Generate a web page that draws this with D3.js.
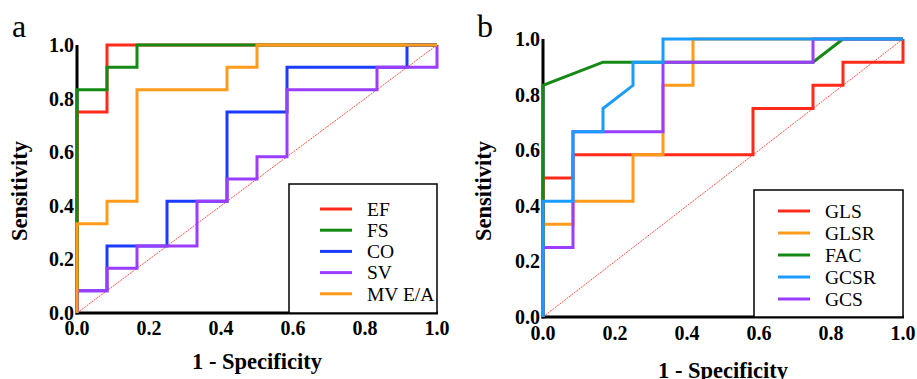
<!DOCTYPE html>
<html>
<head>
<meta charset="utf-8">
<script src="https://cdn.jsdelivr.net/npm/d3@7"></script>
<style>
    body { margin: 0; background: #fff; }
    svg { display: block; }
    text { font-family: "Liberation Serif", "Times New Roman", serif; }
</style>
</head>
<body>
<div id="chart"></div>
<script>
// ROC points (x = 1 - specificity, y = sensitivity)
const efPts = [[0, 0], [0, 0.75], [1/12, 0.75], [1/12, 1], [1, 1]];
const fsPts = [[0, 0], [0, 10/12], [1/12, 10/12], [1/12, 11/12], [2/12, 11/12], [2/12, 1], [1, 1]];
const coPts = [[0, 0], [0, 1/12], [1/12, 1/12], [1/12, 3/12], [3/12, 3/12], [3/12, 5/12], [5/12, 5/12],
    [5/12, 9/12], [7/12, 9/12], [7/12, 11/12], [11/12, 11/12], [11/12, 1], [1, 1]];
const svPts = [[0, 0], [0, 1/12], [1/12, 1/12], [1/12, 2/12], [2/12, 2/12], [2/12, 3/12], [4/12, 3/12],
    [4/12, 5/12], [5/12, 5/12], [5/12, 6/12], [6/12, 6/12], [6/12, 7/12], [7/12, 7/12], [7/12, 10/12],
    [10/12, 10/12], [10/12, 11/12], [1, 11/12], [1, 1]];
const mvPts = [[0, 0], [0, 4/12], [1/12, 4/12], [1/12, 5/12], [2/12, 5/12], [2/12, 10/12], [5/12, 10/12],
    [5/12, 11/12], [6/12, 11/12], [6/12, 1], [1, 1]];

const glsPts = [[0, 0], [0, 6/12], [1/12, 6/12], [1/12, 7/12], [7/12, 7/12], [7/12, 9/12], [9/12, 9/12],
    [9/12, 10/12], [10/12, 10/12], [10/12, 11/12], [1, 11/12], [1, 1]];
const glsrPts = [[0, 0], [0, 4/12], [1/12, 4/12], [1/12, 5/12], [3/12, 5/12], [3/12, 7/12], [4/12, 7/12],
    [4/12, 10/12], [5/12, 10/12], [5/12, 1], [1, 1]];
const facPts = [[0, 0], [0, 10/12], [2/12, 11/12], [9/12, 11/12], [10/12, 1], [1, 1]];
const gcsrPts = [[0, 0], [0, 5/12], [1/12, 5/12], [1/12, 8/12], [2/12, 8/12], [2/12, 9/12], [3/12, 10/12],
    [3/12, 11/12], [4/12, 11/12], [4/12, 1], [1, 1]];
const gcsPts = [[0, 0], [0, 3/12], [1/12, 3/12], [1/12, 8/12], [4/12, 8/12], [4/12, 11/12], [9/12, 11/12],
    [9/12, 1], [1, 1]];

const tickValues = [0, 0.2, 0.4, 0.6, 0.8, 1.0];
const namesA = ['EF', 'FS', 'CO', 'SV', 'MV E/A'];
const namesB = ['GLS', 'GLSR', 'FAC', 'GCSR', 'GCS'];

const W = 917, H = 379;

const svg = d3.select('#chart')
    .append('svg')
    .attr('width', W)
    .attr('height', H);

// Draw one ROC panel
function drawPanel(cfg) {
    const x = d3.scaleLinear().domain([0, 1]).range([cfg.left, cfg.right]),
        y = d3.scaleLinear().domain([0, 1]).range([cfg.bottom, cfg.top]);

    const g = svg.append('g');

    // axes lines
    g.append('line')
        .attr('x1', x(0)).attr('x2', x(0))
        .attr('y1', y(1)).attr('y2', y(0) + 1.5)
        .attr('stroke', '#000').attr('stroke-width', 3);
    g.append('line')
        .attr('x1', x(0) - 1.5).attr('x2', x(1) + 1)
        .attr('y1', y(0)).attr('y2', y(0))
        .attr('stroke', '#000').attr('stroke-width', 3);

    // tick labels
    g.selectAll('.ytick')
        .data(tickValues)
        .enter()
        .append('text')
        .attr('x', x(0) - 3)
        .attr('y', d => y(d))
        .attr('dy', '0.35em')
        .attr('text-anchor', 'end')
        .style('font-weight', 'bold')
        .style('font-size', '20px')
        .text(d => d3.format('.1f')(d));
    g.selectAll('.xtick')
        .data(tickValues)
        .enter()
        .append('text')
        .attr('x', d => x(d))
        .attr('y', y(0) + cfg.xTickOff)
        .attr('dy', '0.35em')
        .attr('text-anchor', 'middle')
        .style('font-weight', 'bold')
        .style('font-size', '20px')
        .text(d => d3.format('.1f')(d));

    // reference diagonal
    g.append('line')
        .attr('x1', x(0)).attr('y1', y(0))
        .attr('x2', x(1)).attr('y2', y(1))
        .attr('stroke', '#ff3b2b')
        .attr('stroke-width', 0.9)
        .attr('stroke-dasharray', '2,1');

    const line = d3.line().x(d => x(d[0])).y(d => y(d[1]));

    cfg.draw.forEach(s => {
        g.append('path')
            .attr('d', line(s.pts))
            .attr('fill', 'none')
            .attr('stroke', s.color)
            .attr('stroke-width', 3)
            .attr('stroke-linejoin', 'miter');
    });

    // titles
    g.append('text')
        .attr('x', (x(0) + x(1)) / 2)
        .attr('y', cfg.xTitleY)
        .attr('text-anchor', 'middle')
        .style('font-weight', 'bold')
        .style('font-size', '22.5px')
        .text('1 - Specificity');
    g.append('text')
        .attr('transform', `translate(${cfg.yTitleX}, 191) rotate(-90)`)
        .attr('text-anchor', 'middle')
        .style('font-weight', 'bold')
        .style('font-size', '22.5px')
        .text('Sensitivity');
    g.append('text')
        .attr('x', cfg.labelX)
        .attr('y', 37)
        .style('font-size', '32px')
        .text(cfg.label);

    // legend
    const lg = cfg.legend;
    g.append('rect')
        .attr('x', lg.x0).attr('y', lg.y0)
        .attr('width', x(1) - lg.x0).attr('height', y(0) - lg.y0)
        .attr('fill', '#fff')
        .attr('stroke', '#000')
        .attr('stroke-width', 1.5);
    const rows = g.selectAll('.leg')
        .data(lg.items)
        .enter()
        .append('g')
        .attr('transform', (d, i) => `translate(0, ${lg.rowY + i * lg.step})`);
    rows.append('line')
        .attr('x1', lg.lx).attr('x2', lg.lx + 32)
        .attr('stroke', d => d.color)
        .attr('stroke-width', 3);
    rows.append('text')
        .attr('x', lg.tx)
        .attr('dy', '0.35em')
        .style('font-size', '19.5px')
        .text(d => d.name);
}

const colA = { EF: '#ff2a1a', FS: '#148a14', CO: '#1a3cff', SV: '#9b3dff', 'MV E/A': '#ff9a1a' };
const colB = { GLS: '#ff2a1a', GLSR: '#ff9a1a', FAC: '#148a14', GCSR: '#1a9cff', GCS: '#9b3dff' };

drawPanel({
    left: 77, right: 437, top: 45, bottom: 313,
    xTickOff: 15, xTitleY: 369, yTitleX: 27, labelX: 12, label: 'a',
    draw: [
        { pts: efPts, color: colA.EF },
        { pts: fsPts, color: colA.FS },
        { pts: coPts, color: colA.CO },
        { pts: svPts, color: colA.SV },
        { pts: mvPts, color: colA['MV E/A'] }
    ],
    legend: {
        x0: 289, y0: 184, rowY: 209, step: 21.2, lx: 320, tx: 367,
        items: namesA.map(n => ({ name: n, color: colA[n] }))
    }
});

drawPanel({
    left: 543, right: 903, top: 39, bottom: 317,
    xTickOff: 16, xTitleY: 378, yTitleX: 491, labelX: 477, label: 'b',
    draw: [
        { pts: glsPts, color: colB.GLS },
        { pts: glsrPts, color: colB.GLSR },
        { pts: facPts, color: colB.FAC },
        { pts: gcsPts, color: colB.GCS },
        { pts: gcsrPts, color: colB.GCSR }
    ],
    legend: {
        x0: 754, y0: 190, rowY: 211, step: 22, lx: 778, tx: 825,
        items: namesB.map(n => ({ name: n, color: colB[n] }))
    }
});
</script>
</body>
</html>
